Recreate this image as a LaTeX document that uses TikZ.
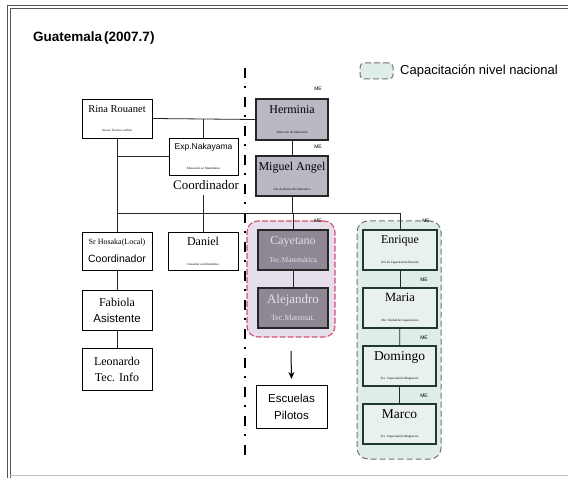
\documentclass[tikz,border=0pt]{standalone}
\usepackage{fontspec}
\setmainfont{Liberation Serif}
\setsansfont{Liberation Sans}
\usetikzlibrary{arrows.meta}
\definecolor{megray}{HTML}{B9B9C3}
\definecolor{tecgray}{HTML}{8E8894}
\definecolor{purplefill}{HTML}{E7DEEC}
\definecolor{pinkline}{HTML}{D0506E}
\definecolor{greenfill}{HTML}{DEEDE7}
\definecolor{boxgreen}{HTML}{E8F1EC}
\definecolor{darkgreen}{HTML}{20382E}
\definecolor{framegray}{HTML}{555555}
\newcommand{\nm}[2][11]{{\fontsize{#1}{#1}\selectfont #2}}
\newcommand{\sub}[1]{{\fontsize{3.2}{4}\selectfont #1}}
\newcommand{\tinyme}{{\sffamily\fontsize{5}{5}\selectfont ME}}
\begin{document}
\begin{tikzpicture}[x=1pt,y=-1pt,
  box/.style={draw, line width=0.9pt, fill=white, inner sep=0pt, align=center},
  sz/.style 2 args={minimum width=#1pt, minimum height=#2pt},
  mebox/.style={box, fill=megray, line width=2pt, draw=black!85},
  tecbox/.style={box, fill=tecgray, line width=2pt, draw=black!85, text=white!88!black},
  grbox/.style={box, fill=boxgreen, line width=2pt, draw=darkgreen},
  link/.style={line width=0.8pt, draw=black!85},
  melabel/.style={inner sep=0pt},
  purplereg/.style={draw=pinkline, line width=1.1pt, dash pattern=on 6pt off 2pt, fill=purplefill, rounded corners=11pt, inner sep=0pt},
  greenreg/.style={draw=black!55, line width=1pt, dash pattern=on 6pt off 3pt, fill=greenfill, rounded corners=11pt, inner sep=0pt},
]
\useasboundingbox (0,0) rectangle (568,478);
\fill[white] (0,0) rectangle (568,478);
% frame
\draw[framegray, line width=0.9pt] (568,5) -- (7,5) -- (7,478);
\draw[framegray, line width=0.9pt] (568,8) -- (10,8) -- (10,478);
\draw[black!25, line width=0.6pt] (10,475) -- (568,475);

% title
\node[anchor=west, inner sep=0pt, font=\sffamily\bfseries\fontsize{13.5}{13.5}\selectfont] (title) at (33,38) {Guatemala\hspace{2pt}(2007.7)};

% legend
\node[greenreg, rounded corners=4pt, sz={33}{16}] (legbox) at (376.5,71) {};
\node[anchor=west, inner sep=0pt, font=\sffamily\fontsize{13}{13}\selectfont] (legtext) at (400,71) {Capacitación nivel nacional};

% regions
\node[purplereg, sz={88}{116}] (preg) at (291,279) {};
\node[greenreg, sz={84}{238}] (greg) at (399,340) {};

% separator
\coordinate (septop) at (245,68);
\coordinate (sepbot) at (245,455);
\draw[line width=2.6pt, dash pattern=on 10pt off 8pt on 2pt off 9pt] (septop) -- (sepbot);

% boxes
\node[box, sz={70}{39}] (rina) at (117,118.5) {\nm[10.5]{Rina Rouanet}\\[7pt]\sub{Asesor Técnico en Plan}};
\node[mebox, sz={72}{41}] (herm) at (292,119.5) {\nm[12]{Herminia}\\[8pt]\sub{Dirección de Educación}};
\node[box, sz={69}{37}] (naka) at (203.5,156.5) {\nm[8.5]{\sffamily Exp.Nakayama}\\[8pt]\sub{Educación en Matemática}};
\node[inner sep=0pt, font=\fontsize{13}{13}\selectfont] (coord) at (206,185) {Coordinador};
\node[mebox, sz={72}{40}] (migu) at (292,176) {\nm[12]{Miguel Angel}\\[8pt]\sub{Jefe de Desarrollo Educativo}};

\node[box, sz={70}{38}] (hosa) at (117,251) {\nm[8]{Sr Hosaka(Local)}\\[6pt]\nm[10.5]{\sffamily Coordinador}};
\node[box, sz={70}{38}] (dani) at (203,251) {\nm[12]{Daniel}\\[8pt]\sub{Consultor en Informática}};
\node[tecbox, sz={70}{40}] (caye) at (293,250) {\nm[12]{Cayetano}\\[6pt]\nm[7.5]{Tec.Matemática}};
\node[tecbox, sz={70}{40}] (alej) at (293,308) {\nm[13]{Alejandro}\\[5pt]\nm[8]{Tec.Matemat.}};
\node[box, sz={70}{40}] (fabi) at (117,310) {\nm[12]{Fabiola}\\[4pt]\nm[11.5]{\sffamily Asistente}};
\node[box, sz={70}{42}] (leon) at (117,369) {\nm[12]{Leonardo}\\[4pt]\nm[12]{Tec. Info}};
\node[box, sz={71}{43}] (escu) at (291.5,406.5) {\nm[11.5]{\sffamily Escuelas}\\[5pt]\nm[11.5]{\sffamily Pilotos}};

\node[grbox, sz={74}{40}] (enri) at (400,250) {\nm[12]{Enrique}\\[8pt]\sub{Jefe de Capacitación Docente}};
\node[grbox, sz={74}{40}] (mari) at (400,308) {\nm[12.5]{Maria}\\[8pt]\sub{Dir. Unidad de Capacitación}};
\node[grbox, sz={73}{40}] (domi) at (399.5,366) {\nm[13.5]{Domingo}\\[7pt]\sub{Tec. Capacitación Magisterio}};
\node[grbox, sz={73}{40}] (marc) at (399.5,424) {\nm[13.5]{Marco}\\[7pt]\sub{Tec. Capacitación Magisterio}};

% ME labels
\node[melabel] (me1) at (318,89) {\tinyme};
\node[melabel] (me2) at (318,147) {\tinyme};
\node[melabel] (me3) at (318,221) {\tinyme};
\node[melabel] (me4) at (426,221) {\tinyme};
\node[melabel] (me5) at (424,280) {\tinyme};
\node[melabel] (me6) at (424,338) {\tinyme};
\node[melabel] (me7) at (424,396) {\tinyme};

% connectors
\coordinate (bus) at (0,213);
\draw[link] (rina.east) -- (herm.west);
\draw[link] (naka.north) -- (naka.north |- herm.west);
\draw[link] (rina.south -| hosa.north) -- (hosa.north);
\draw[link] (rina.south |- naka.west) -- (naka.west);
\draw[link] (herm) -- (migu);
\draw[link] (migu.south) -- (migu.south |- bus);
\draw[link] (hosa.north |- bus) -- (enri.north |- bus);
\draw[link] (coord.south -| dani.north) ++(0,5) -- (dani.north);
\draw[link] (caye.north |- bus) -- (caye.north);
\draw[link] (enri.north |- bus) -- (enri.north);
\draw[link] (caye) -- (alej);
\draw[link] (hosa) -- (fabi);
\draw[link] (fabi) -- (leon);
\draw[link] (enri) -- (mari);
\draw[link] (mari) -- (domi);
\draw[link] (domi) -- (marc);
\coordinate (arrtop) at (291,351);
\draw[line width=1pt, -{Stealth[length=7pt,width=6pt]}] (arrtop) -- (escu.north |- 0,379);
\end{tikzpicture}
\end{document}
